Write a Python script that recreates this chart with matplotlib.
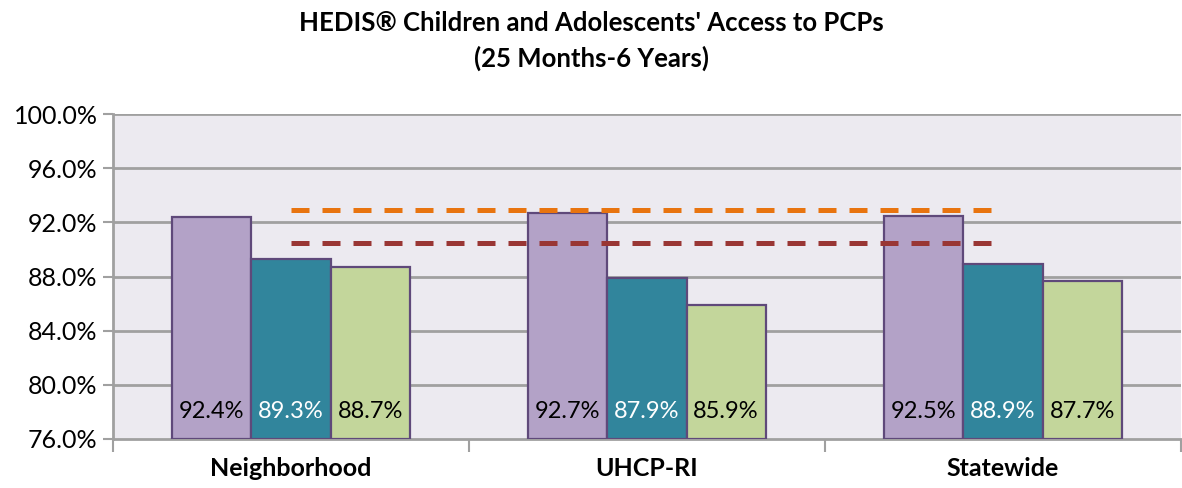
import numpy as np
import matplotlib
matplotlib.use('Agg')
import matplotlib.pyplot as plt

plt.rcParams['font.family'] = ['Lato', 'DejaVu Sans']

# Data
categories = ['Neighborhood', 'UHCP-RI', 'Statewide']
series_a = [92.4, 92.7, 92.5]
series_b = [89.3, 87.9, 88.9]
series_c = [88.7, 85.9, 87.7]
benchmark_high = 92.9
benchmark_low = 90.5
y_ticks = [76.0, 80.0, 84.0, 88.0, 92.0, 96.0, 100.0]

colors = ['#B3A2C7', '#31859C', '#C3D69B']
label_colors = ['black', 'white', 'black']
edge = '#5F497A'

fig = plt.figure(figsize=(11.82, 4.88), dpi=100)
ax = fig.add_axes([113 / 1182, 1 - 439 / 488, (1181 - 113) / 1182, (439 - 114) / 488])
ax.set_facecolor('#ECEAF0')

ymin, ymax = y_ticks[0], y_ticks[-1]
ax.set_ylim(ymin, ymax)
ax.set_xlim(-0.5, len(categories) - 0.5)

for y in y_ticks[1:]:
    ax.axhline(y, color='#A0A0A0', lw=2, zorder=1)

x = np.arange(len(categories))
w = 2 / 9
all_series = [series_a, series_b, series_c]
for i, vals in enumerate(all_series):
    xs = x + (i - 1) * w
    ax.bar(xs, np.array(vals) - ymin, width=w, bottom=ymin, color=colors[i],
           edgecolor=edge, linewidth=1.6, zorder=3)
    for xi, v in zip(xs, vals):
        ax.text(xi, ymin + 2.05, '{:.1f}%'.format(v), ha='center', va='center',
                fontsize=17, color=label_colors[i], zorder=4)

ax.hlines(benchmark_high, x[0], x[-1], colors='#E8740F', lw=3.6,
          linestyles=(0, (3.6, 2.6)), zorder=5)
ax.hlines(benchmark_low, x[0], x[-1], colors='#993634', lw=3.6,
          linestyles=(0, (3.6, 2.6)), zorder=5)

ax.set_yticks(y_ticks)
ax.set_yticklabels(['{:.1f}%'.format(t) for t in y_ticks], fontsize=18)
ax.set_xticks(x)
ax.set_xticklabels(categories, fontsize=18, fontweight='bold')
ax.tick_params(axis='x', length=0, pad=13)
ax.tick_params(axis='y', length=7, width=1.5, color='#A0A0A0', pad=4)
ax.set_xticks(np.arange(-0.5, len(categories)), minor=True)
ax.tick_params(axis='x', which='minor', length=9, width=1.5, color='#A0A0A0')

for side in ['top', 'right']:
    ax.spines[side].set_visible(False)
ax.spines['left'].set_color('#A0A0A0')
ax.spines['left'].set_linewidth(2)
ax.spines['bottom'].set_color('#A0A0A0')
ax.spines['bottom'].set_linewidth(2)

fig.text(0.5, 1 - 23 / 488, "HEDIS\u00ae Children and Adolescents' Access to PCPs",
         ha='center', va='center', fontsize=18.5, fontweight='bold')
fig.text(0.5, 1 - 58 / 488, '(25 Months-6 Years)',
         ha='center', va='center', fontsize=18.5, fontweight='bold')

fig.savefig('out.png', dpi=100)
